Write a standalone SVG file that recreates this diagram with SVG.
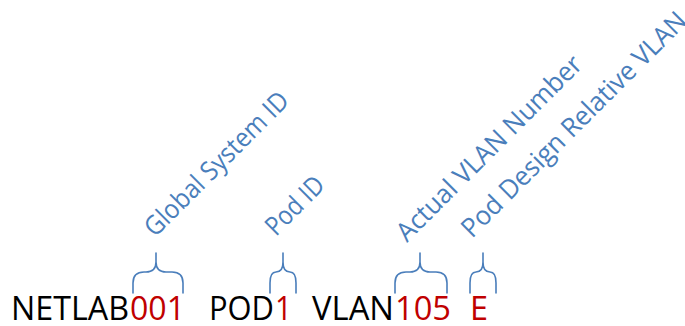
<svg xmlns="http://www.w3.org/2000/svg" width="685" height="326" viewBox="0 0 685 326">
<style>
.main{font-family:"Open Sans","Liberation Sans",sans-serif;font-size:32px}
.blk{fill:#000}
.red{fill:#C00000}
.lbl{font-family:"Open Sans","Liberation Sans",sans-serif;font-size:26.5px;fill:#4A7EBB}
.brace{fill:none;stroke:#4A7EBB;stroke-width:1.6;stroke-linecap:round}
</style>
<rect width="685" height="326" fill="#fff"/>
<g id="code">
<text class="main blk" x="11" y="320" textLength="118" lengthAdjust="spacingAndGlyphs">NETLAB</text>
<text class="main red" x="130" y="320" textLength="55" lengthAdjust="spacingAndGlyphs">001</text>
<text class="main blk" x="209" y="320" textLength="65" lengthAdjust="spacingAndGlyphs">POD</text>
<text class="main red" x="275" y="320" textLength="17" lengthAdjust="spacingAndGlyphs">1</text>
<text class="main blk" x="312" y="320" textLength="82" lengthAdjust="spacingAndGlyphs">VLAN</text>
<text class="main red" x="395" y="320" textLength="56" lengthAdjust="spacingAndGlyphs">105</text>
<text class="main red" x="470" y="320" textLength="18" lengthAdjust="spacingAndGlyphs">E</text>
</g>
<g id="connectors">
<path class="brace" d="M133,293 V283 Q133,272 144,272 H146 Q156,272 156,262 V253 M156,262 Q156,272 166,272 H172 Q183,272 183,283 V293"/>
<path class="brace" d="M270,293 V283 Q270,272 276,272 Q283,272 283,262 V253 M283,262 Q283,272 290,272 Q296,272 296,283 V293"/>
<path class="brace" d="M395,293 V283 Q395,272 406,272 H410 Q420,272 420,262 V253 M420,262 Q420,272 430,272 H436 Q447,272 447,283 V293"/>
<path class="brace" d="M470,293 V283 Q470,272 476,272 Q483,272 483,262 V253 M483,262 Q483,272 490,272 Q496,272 496,283 V293"/>
</g>
<g id="label-global">
<text class="lbl" transform="translate(155,238) rotate(-45)" textLength="192" lengthAdjust="spacingAndGlyphs">Global System ID</text>
</g>
<g id="label-pod">
<text class="lbl" transform="translate(276,237) rotate(-45)" textLength="71" lengthAdjust="spacingAndGlyphs">Pod ID</text>
</g>
<g id="label-vlan">
<text class="lbl" transform="translate(407,243) rotate(-45)" textLength="250" lengthAdjust="spacingAndGlyphs">Actual VLAN Number</text>
</g>
<g id="label-relative">
<text class="lbl" transform="translate(472,239) rotate(-45)" textLength="306" lengthAdjust="spacingAndGlyphs">Pod Design Relative VLAN</text>
</g>
</svg>
